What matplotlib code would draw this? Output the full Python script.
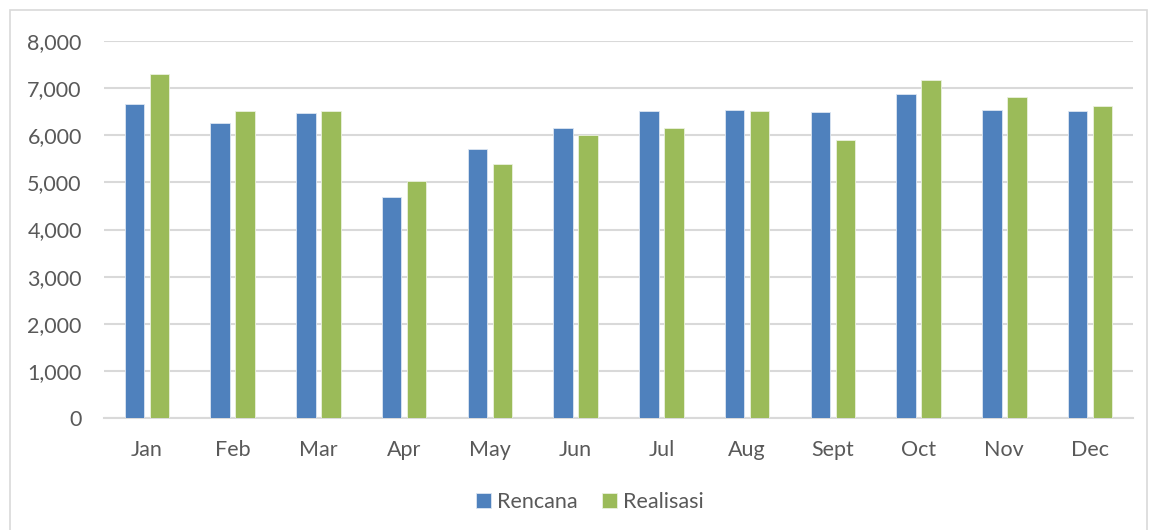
import numpy as np
import matplotlib.pyplot as plt
from matplotlib.patches import Rectangle
from matplotlib.ticker import FuncFormatter

# Monthly values
months = ["Jan", "Feb", "Mar", "Apr", "May", "Jun",
          "Jul", "Aug", "Sept", "Oct", "Nov", "Dec"]
rencana = [6670, 6270, 6480, 4700, 5700, 6160, 6520, 6540, 6490, 6880, 6540, 6510]
realisasi = [7310, 6510, 6510, 5030, 5400, 6010, 6160, 6510, 5890, 7170, 6810, 6620]

plt.rcParams['font.family'] = ['Lato', 'DejaVu Sans']
text_color = "#595959"
grid_color = "#d9d9d9"

fig = plt.figure(figsize=(11.5, 5.3), dpi=100)

# light frame round the chart area, like the spreadsheet export
fig.patches.append(Rectangle((10 / 1150, -0.05), 1137 / 1150, 1.05 - 10 / 530,
                             transform=fig.transFigure, fill=False,
                             edgecolor=grid_color, linewidth=1.2))

ax = fig.add_axes([104 / 1150, 112 / 530, 1029 / 1150, 377 / 530])

x = np.arange(len(months))
width = 0.228
offset = 0.146
ax.bar(x - offset, rencana, width, color="#4f81bd", edgecolor="#dce6f2",
       linewidth=0.6, label="Rencana", zorder=3)
ax.bar(x + offset, realisasi, width, color="#9bbb59", edgecolor="#ebf1de",
       linewidth=0.6, label="Realisasi", zorder=3)

ax.set_xlim(-0.5, len(months) - 0.5)
ax.set_ylim(0, 8000)
ax.set_yticks(np.arange(0, 8001, 1000))
ax.yaxis.set_major_formatter(FuncFormatter(lambda v, p: f"{int(v):,}"))
ax.set_xticks(x)
ax.set_xticklabels(months)

ax.grid(axis="y", color=grid_color, linewidth=1.5, zorder=0)
for side in ["top", "right", "left"]:
    ax.spines[side].set_visible(False)
ax.spines["bottom"].set_color(grid_color)
ax.spines["bottom"].set_linewidth(1.5)

ax.tick_params(axis="both", length=0, labelsize=15.5, colors=text_color)
ax.tick_params(axis="y", pad=16)
ax.tick_params(axis="x", pad=16)

fig.legend(loc="center", bbox_to_anchor=(590 / 1150, 1 - 502 / 530), ncol=2,
           frameon=False, fontsize=15.5, labelcolor=text_color,
           handlelength=0.7, handleheight=0.7, handletextpad=0.3,
           columnspacing=1.1)

fig.savefig("out.png", dpi=100)
